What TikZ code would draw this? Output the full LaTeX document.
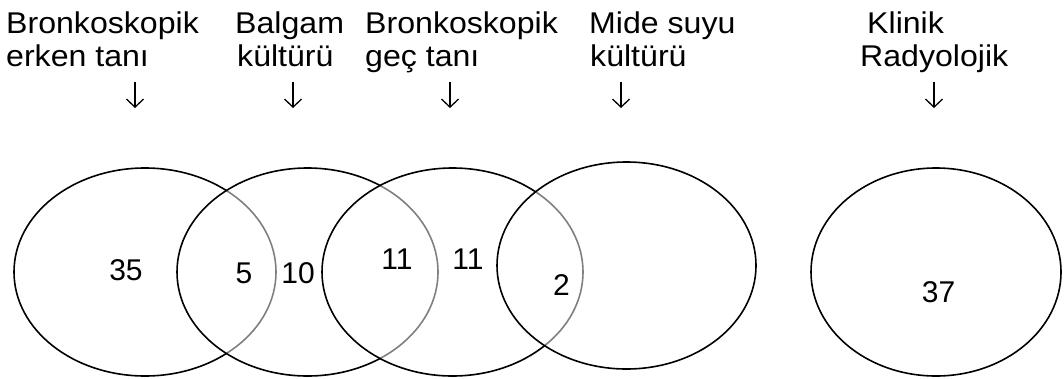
\documentclass[tikz,border=0pt]{standalone}
\usepackage{fontspec}
\setmainfont{Liberation Sans}
\usetikzlibrary{shapes.geometric,arrows.meta}
\newcommand\widetxt[1]{\scalebox{1.07}[1]{#1}}
\tikzset{
  venn/.style={ellipse, draw=black, line width=1.6pt, fill=white, fill opacity=0.5, inner sep=0pt, outer sep=0pt},
  lbl/.style={anchor=base west, inner sep=0pt, font=\fontsize{30}{33}\selectfont},
  num/.style={anchor=center, inner sep=0pt, font=\fontsize{30}{33}\selectfont},
  pointer/.style={line width=1.3pt, -{Straight Barb[length=8pt, width=17pt, line width=1.3pt]}}
}
\begin{document}
\begin{tikzpicture}[x=1pt,y=-1pt]
\useasboundingbox (0,0) rectangle (1064,378);
% ellipses
\node[venn, minimum width=262pt, minimum height=208pt] (e1) at (145,272) {};
\node[venn, minimum width=261pt, minimum height=208pt] (e2) at (307.5,272) {};
\node[venn, minimum width=261pt, minimum height=208pt] (e3) at (452.5,272) {};
\node[venn, minimum width=259pt, minimum height=207pt] (e4) at (626.5,265.5) {};
\node[venn, minimum width=250pt, minimum height=208pt] (e5) at (936,272) {};
% numbers
\node[num] (n35) at (126,270) {35};
\node[num] (n5) at (244,273) {5};
\node[num] (n10) at (298,273) {10};
\node[num] (n11a) at (397,259) {11};
\node[num] (n11b) at (468,259) {11};
\node[num] (n2) at (561.5,285) {2};
\node[num] (n37) at (938.5,292) {37};
% labels
\node[lbl] (l1a) at (6,33) {\widetxt{Bronkoskopik}};
\node[lbl] (l1b) at (6,66) {\widetxt{erken tanı}};
\node[lbl] (l2a) at (235,33) {\widetxt{Balgam}};
\node[lbl] (l2b) at (237,66) {\widetxt{kültürü}};
\node[lbl] (l3a) at (365,33) {\widetxt{Bronkoskopik}};
\node[lbl] (l3b) at (365,66) {\widetxt{geç tanı}};
\node[lbl] (l4a) at (589,33) {\widetxt{Mide suyu}};
\node[lbl] (l4b) at (590,66) {\widetxt{kültürü}};
\node[lbl] (l5a) at (867,33) {\widetxt{Klinik}};
\node[lbl] (l5b) at (860,66) {\widetxt{Radyolojik}};
% arrows
\coordinate (a1s) at (135,82);  \coordinate (a1e) at (135,108);
\coordinate (a2s) at (293,82);  \coordinate (a2e) at (293,108);
\coordinate (a3s) at (450,82);  \coordinate (a3e) at (450,108);
\coordinate (a4s) at (621,82);  \coordinate (a4e) at (621,108);
\coordinate (a5s) at (934,82);  \coordinate (a5e) at (934,108);
\draw[pointer] (a1s) -- (a1e);
\draw[pointer] (a2s) -- (a2e);
\draw[pointer] (a3s) -- (a3e);
\draw[pointer] (a4s) -- (a4e);
\draw[pointer] (a5s) -- (a5e);
\end{tikzpicture}
\end{document}
